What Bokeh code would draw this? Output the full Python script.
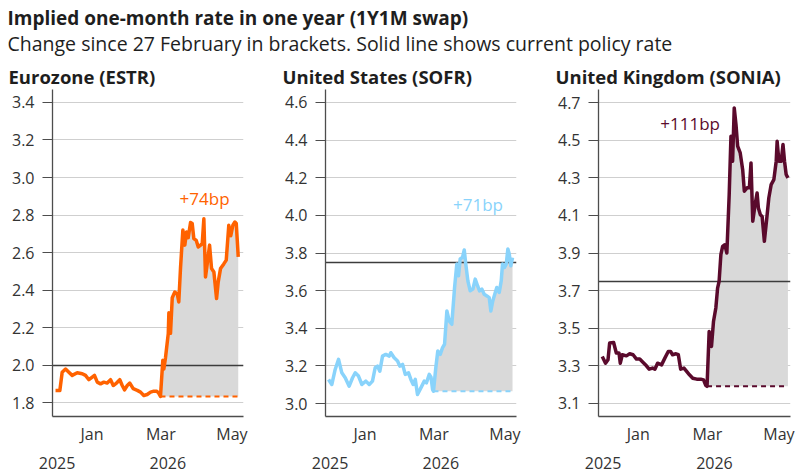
from bokeh.plotting import figure
from bokeh.layouts import column, row
from bokeh.models import Label, LinearAxis, FixedTicker, NumeralTickFormatter, Range1d
from bokeh.core.properties import value
from bokeh.embed import file_html
from bokeh.resources import INLINE

FONT = "Open Sans"
TEXT = "#1e1e1e"
TICK_TEXT = "#333333"
FILL = "#d9d9d9"
GRID = "#cfcfcf"
AXIS = "#4d4d4d"

# x axis: days counted from 1 January 2026
month_ticks = [0, 59, 120]
month_labels = ["Jan", "Mar", "May"]
year_ticks = [-30, 65]
year_labels = ["2025", "2026"]
base_day = 58.7  # 27 February reference point

# Eurozone (ESTR)
ez_days = [-31.3, -27.6, -25.6, -22.7, -19.9, -17.0, -12.7, -8.4, -5.6, -2.7, 0.2, 2.1,
           4.5, 7.3, 10.1, 13.0, 15.9, 18.2, 21.0, 23.8, 25.9, 27.9, 30.2, 32.4, 35.3,
           38.8, 41.6, 44.4, 47.3, 50.2, 53.0, 55.5, 57.3, 58.7, 60.7, 61.6, 63.0, 65.4,
           65.9, 67.3, 68.8, 71.0, 73.1, 74.4, 75.9, 77.9, 79.6, 81.0, 82.5, 84.5, 85.9,
           87.3, 89.4, 91.1, 93.1, 94.5, 95.9, 97.3, 98.8, 100.8, 102.5, 104.5, 106.8,
           108.2, 110.2, 113.0, 115.1, 117.3, 119.0, 120.8, 122.5, 123.7, 125.4]
ez_vals = [1.866, 1.866, 1.963, 1.980, 1.963, 1.946, 1.960, 1.955, 1.946, 1.923, 1.937, 1.946,
           1.910, 1.901, 1.910, 1.905, 1.923, 1.892, 1.905, 1.923, 1.892, 1.869, 1.892, 1.905,
           1.875, 1.866, 1.857, 1.839, 1.844, 1.857, 1.862, 1.862, 1.850, 1.834, 2.026, 1.980,
           2.040, 2.170, 2.280, 2.170, 2.360, 2.390, 2.380, 2.337, 2.520, 2.720, 2.640, 2.710,
           2.680, 2.760, 2.755, 2.675, 2.665, 2.630, 2.640, 2.648, 2.780, 2.470, 2.540, 2.640,
           2.515, 2.497, 2.355, 2.443, 2.515, 2.540, 2.560, 2.746, 2.690, 2.746, 2.763, 2.755,
           2.577]

# United States (SOFR)
us_days = [-31.3, -28.5, -25.6, -22.7, -19.9, -17.0, -13.6, -10.7, -8.4, -5.6, -2.7, 0.7,
           3.6, 6.4, 8.7, 10.7, 12.7, 15.0, 17.8, 20.8, 22.1, 25.0, 27.9, 29.8, 32.2, 34.5,
           37.3, 39.3, 41.3, 43.1, 45.0, 47.9, 50.8, 52.7, 55.1, 56.6, 57.9, 58.7, 60.7,
           62.4, 64.5, 66.5, 68.2, 70.2, 72.2, 74.4, 76.8, 78.7, 80.2, 81.6, 83.6, 85.1,
           86.4, 88.2, 90.2, 92.5, 94.5, 96.5, 98.2, 100.2, 102.2, 104.5, 106.5, 107.9,
           109.6, 111.7, 113.0, 115.1, 116.8, 117.9, 119.6, 121.1, 122.5, 123.7, 125.0, 126.5]
us_vals = [3.128, 3.101, 3.181, 3.235, 3.163, 3.137, 3.092, 3.137, 3.163, 3.146, 3.101, 3.119,
           3.101, 3.119, 3.190, 3.199, 3.172, 3.252, 3.261, 3.252, 3.270, 3.243, 3.226, 3.199,
           3.208, 3.155, 3.163, 3.128, 3.101, 3.128, 3.048, 3.083, 3.119, 3.110, 3.155, 3.140,
           3.075, 3.065, 3.190, 3.279, 3.261, 3.297, 3.315, 3.492, 3.439, 3.421, 3.617, 3.741,
           3.679, 3.768, 3.777, 3.816, 3.741, 3.652, 3.599, 3.608, 3.661, 3.626, 3.599, 3.608,
           3.581, 3.572, 3.563, 3.492, 3.546, 3.590, 3.617, 3.590, 3.652, 3.741, 3.723, 3.741,
           3.821, 3.795, 3.732, 3.775]

# United Kingdom (SONIA)
uk_days = [-30.7, -27.9, -25.8, -24.4, -21.0, -18.7, -16.4, -15.3, -13.6, -10.1, -7.3, -4.4,
           -1.5, 1.3, 4.2, 7.0, 9.3, 12.2, 14.2, 16.5, 19.9, 22.7, 25.6, 27.6, 29.3, 32.2,
           34.2, 36.2, 39.0, 41.3, 43.7, 46.5, 49.9, 53.3, 55.7, 57.6, 58.7, 60.5, 62.5,
           64.2, 66.2, 67.7, 69.0, 70.5, 72.0, 73.9, 75.6, 77.6, 79.1, 80.5, 81.9, 83.4,
           84.8, 87.0, 89.1, 90.5, 92.8, 94.8, 96.2, 97.7, 99.7, 101.4, 102.5, 104.2, 105.7,
           107.6, 109.7, 111.4, 113.4, 115.7, 117.7, 118.5, 120.0, 122.0, 123.5, 124.8,
           126.2, 127.7]
uk_vals = [3.349, 3.313, 3.331, 3.420, 3.423, 3.367, 3.367, 3.313, 3.358, 3.352, 3.363, 3.358,
           3.335, 3.335, 3.317, 3.299, 3.281, 3.287, 3.281, 3.313, 3.304, 3.340, 3.375, 3.375,
           3.358, 3.363, 3.358, 3.281, 3.287, 3.269, 3.251, 3.233, 3.228, 3.228, 3.224, 3.195,
           3.190, 3.482, 3.402, 3.535, 3.607, 3.713, 3.749, 3.891, 3.935, 3.944, 3.900, 4.211,
           4.522, 4.389, 4.673, 4.584, 4.469, 4.433, 4.344, 4.229, 4.247, 4.247, 4.380, 4.069,
           4.158, 4.220, 4.140, 4.104, 4.095, 3.962, 4.087, 4.193, 4.264, 4.291, 4.389, 4.495,
           4.389, 4.389, 4.478, 4.389, 4.318, 4.300]

panel_titles = ["Eurozone (ESTR)", "United States (SOFR)", "United Kingdom (SONIA)"]
policy_rates = [2.00, 3.75, 3.75]
colors = ["#ff6200", "#89d3fb", "#5a0a2c"]
y_ticks = [[1.8, 2.0, 2.2, 2.4, 2.6, 2.8, 3.0, 3.2, 3.4],
           [3.0, 3.2, 3.4, 3.6, 3.8, 4.0, 4.2, 4.4, 4.6],
           [3.1, 3.3, 3.5, 3.7, 3.9, 4.1, 4.3, 4.5, 4.7]]
y_limits = [(1.727, 3.469), (2.931, 4.669), (3.029, 4.771)]
# where the change label sits (day, value)
label_at = [(96.5, 2.89), (96.9, 4.056), (44.3, 4.592)]

HEADER_H = 89
PANEL_H = 384


def make_header():
    h = figure(width=800, height=HEADER_H, x_range=Range1d(0, 800), y_range=Range1d(HEADER_H, 0),
               output_backend="svg", toolbar_location=None, x_axis_type=None, y_axis_type=None,
               min_border=0, outline_line_color=None)
    h.add_layout(Label(x=7, y=17, text="Implied one-month rate in one year (1Y1M swap)",
                       text_font=FONT, text_font_size="19px", text_font_style="bold",
                       text_color=TEXT, text_baseline="alphabetic"))
    h.add_layout(Label(x=7, y=43, text="Change since 27 February in brackets. Solid line shows current policy rate",
                       text_font=FONT, text_font_size="19.5px", text_color=TEXT,
                       text_baseline="alphabetic"))
    for xpos, t in zip([8, 282, 555], panel_titles):
        h.add_layout(Label(x=xpos, y=76, text=t, text_font=FONT, text_font_size="18.5px",
                           text_font_style="bold", text_color=TEXT, text_baseline="alphabetic"))
    return h


def make_panel(days, vals, policy, limits, ticks, color, lab, width, border_right):
    p = figure(width=width, height=PANEL_H, x_range=Range1d(-33.9, 129.9),
               y_range=Range1d(*limits), output_backend="svg", toolbar_location=None,
               min_border_left=52, min_border_right=border_right, min_border_top=0,
               min_border_bottom=57, outline_line_color=None)

    # y axis
    p.yaxis.ticker = FixedTicker(ticks=ticks)
    p.yaxis.formatter = NumeralTickFormatter(format="0.0")
    p.yaxis.major_tick_out = 10
    p.yaxis.major_tick_in = 0
    p.yaxis.minor_tick_out = 0
    p.yaxis.minor_tick_in = 0
    p.yaxis.major_label_standoff = 8
    # x axis: months
    p.xaxis.ticker = FixedTicker(ticks=month_ticks)
    p.xaxis.major_label_overrides = dict(zip(month_ticks, month_labels))
    p.xaxis.major_tick_out = 0
    p.xaxis.major_tick_in = 0
    p.xaxis.minor_tick_out = 0
    p.xaxis.minor_tick_in = 0
    p.xaxis.major_label_standoff = 6
    for ax in (p.xaxis[0], p.yaxis[0]):
        ax.axis_line_color = AXIS
        ax.axis_line_width = 1.3
        ax.major_tick_line_color = AXIS
        ax.major_label_text_font = FONT
        ax.major_label_text_font_size = "16px"
        ax.major_label_text_color = TICK_TEXT

    # second row of x labels: years
    years = LinearAxis(ticker=FixedTicker(ticks=year_ticks),
                       major_label_overrides=dict(zip(year_ticks, year_labels)),
                       axis_line_color=None, major_tick_out=0, major_tick_in=0,
                       minor_tick_out=0, minor_tick_in=0, major_label_standoff=9,
                       major_label_text_font=FONT, major_label_text_font_size="16px",
                       major_label_text_color=TICK_TEXT)
    p.add_layout(years, "below")

    p.xgrid.grid_line_color = None
    p.ygrid.grid_line_color = GRID
    p.ygrid.grid_line_width = 1.2

    i0 = days.index(base_day)
    base = vals[i0]
    fd = days[i0:]
    fv = vals[i0:]

    p.varea(x=fd, y1=[base] * len(fd), y2=fv, fill_color=FILL)
    p.hspan(y=[policy], line_color="#3c3c3c", line_width=1.3)
    p.line(x=[fd[0], fd[-1]], y=[base, base], line_color=color, line_width=2,
           line_dash="5 4")
    p.line(x=days, y=vals, line_color=color, line_width=3.5, line_join="round")

    change = round((vals[-1] - base) * 100)
    p.text(x=[lab[0]], y=[lab[1]], text=[f"+{change}bp"], text_font=value(FONT),
           text_font_size="17px", text_color=color, text_align="center",
           text_baseline="alphabetic")
    return p


series = [(ez_days, ez_vals), (us_days, us_vals), (uk_days, uk_vals)]
widths = [273, 273, 254]
borders_right = [30, 30, 10]
panels = []
for k in range(3):
    d, v = series[k]
    panels.append(make_panel(d, v, policy_rates[k], y_limits[k], y_ticks[k], colors[k],
                             label_at[k], widths[k], borders_right[k]))

layout = column(make_header(), row(*panels))
open("out.html", "w").write(file_html(layout, INLINE))
